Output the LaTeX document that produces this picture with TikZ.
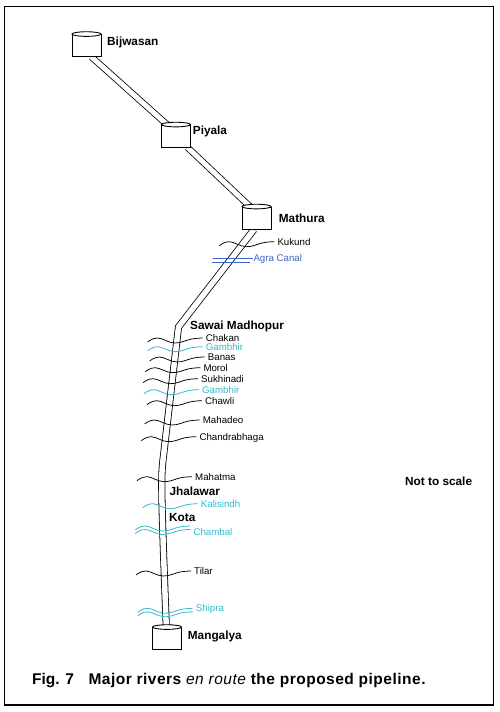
\documentclass[tikz,border=0pt]{standalone}
\usepackage{fontspec}
\setmainfont{Liberation Sans}
\newfontfamily\captionfont[LetterSpace=3.2]{Liberation Sans}
\usetikzlibrary{backgrounds, calc}
\definecolor{rivercyan}{HTML}{35B9C9}
\definecolor{canalblue}{HTML}{3F66C4}
\newcommand{\rivercurve}[3]{\draw[#1, shift={(#2.west)}, yshift=#3] plot[smooth, tension=0.7] coordinates {(-58,4) (-48,0) (-31,5) (-14,1) (-3,0)};}
\begin{document}
\begin{tikzpicture}[
    x=1pt, y=-1pt,
    every node/.style={font=\fontsize{9.7}{10}\selectfont, inner sep=0pt, text height=7pt, text depth=0pt},
    town/.style={font=\fontsize{11.8}{12}\selectfont\bfseries, anchor=west, text height=8.5pt},
    riverlabel/.style={anchor=west},
    cyanlabel/.style={riverlabel, text=rivercyan},
    tank/.style={rectangle, draw=black, line width=0.9pt, fill=white, minimum width=29pt, minimum height=22pt, text height=0pt},
    lid/.style={draw=black, line width=0.9pt, fill=white},
    pipe/.style={draw=black, line width=0.8pt, double=white, double distance=5pt, line join=miter},
    wave/.style={draw=black, line width=0.75pt},
    cyanwave/.style={draw=rivercyan, line width=0.8pt},
    canal/.style={draw=canalblue, line width=0.9pt},
    figtext/.style={font=\fontsize{15.5}{16}\selectfont\bfseries, anchor=west, text height=11pt},
]
\draw[black, line width=1.2pt] (4.5,6.5) rectangle (493.5,705);
\useasboundingbox (0,0) rectangle (500,712);
% tanks
\node[tank] (bijwasan) at (86.5,45.5) {}; \draw[lid] (bijwasan.north) ellipse (14.5pt and 2.3pt);
\node[tank] (piyala) at (176,136) {}; \draw[lid] (piyala.north) ellipse (14.5pt and 2.3pt);
\node[tank] (mathura) at (256.5,218) {}; \draw[lid] (mathura.north) ellipse (14.5pt and 2.3pt);
\node[tank] (mangalya) at (167,638.5) {}; \draw[lid] (mangalya.north) ellipse (14.5pt and 2.3pt);
\coordinate (sawaibend) at (178.5,327);
\coordinate (jhalawarbend) at (163,460);
\begin{scope}[on background layer]
\draw[pipe] ([xshift=5pt]bijwasan.south) -- ([xshift=-9pt]piyala.north);
\draw[pipe] ([xshift=11.5pt]piyala.south) -- ([xshift=-6.5pt]mathura.north);
\draw[pipe, double distance=5.5pt] ([xshift=-2.5pt]mathura.south) -- (sawaibend) -- (jhalawarbend) .. controls (161,477) and (161,490) .. ([xshift=-0.7pt]mangalya.north);
\end{scope}
% towns
\node[town] (lblbijwasan) at (107,41) {Bijwasan};
\node[town] (lblpiyala) at (192.7,130) {Piyala};
\node[town] (lblmathura) at (278.7,218.7) {Mathura};
\node[town] (lblsawai) at (190,325.7) {Sawai Madhopur};
\node[town] (lbljhalawar) at (169.3,491) {Jhalawar};
\node[town] (lblkota) at (169,517.7) {Kota};
\node[town] (lblmangalya) at (187.7,635) {Mangalya};
\node[town] (lblscale) at (405,481) {Not to scale};
% rivers
\node[riverlabel] (kukund) at (277.3,241.7) {Kukund};
\node[riverlabel, text=canalblue] (agra) at (253.3,258.3) {Agra Canal};
\node[riverlabel] (chakan) at (205.7,338) {Chakan};
\node[cyanlabel] (gambhira) at (205.7,346.7) {Gambhir};
\node[riverlabel] (banas) at (207.7,357) {Banas};
\node[riverlabel] (morol) at (203.3,367.7) {Morol};
\node[riverlabel] (sukhinadi) at (201,378.7) {Sukhinadi};
\node[cyanlabel] (gambhirb) at (202,389.7) {Gambhir};
\node[riverlabel] (chawli) at (205,400.7) {Chawli};
\node[riverlabel] (mahadeo) at (202.7,420) {Mahadeo};
\node[riverlabel] (chandrabhaga) at (199.3,436.7) {Chandrabhaga};
\node[riverlabel] (mahatma) at (195,476.7) {Mahatma};
\node[cyanlabel] (kalisindh) at (200.7,503.7) {Kalisindh};
\node[cyanlabel] (chambal) at (193.3,532) {Chambal};
\node[riverlabel] (tilar) at (194,571) {Tilar};
\node[cyanlabel] (shipra) at (195.7,608.3) {Shipra};
\foreach \rv in {kukund,chakan,banas,morol,sukhinadi,chawli,mahadeo,chandrabhaga,mahatma,tilar} {
    \rivercurve{wave}{\rv}{0pt}
}
\foreach \rv in {gambhira,gambhirb,kalisindh} {
    \rivercurve{cyanwave}{\rv}{0pt}
}
\rivercurve{cyanwave}{chambal}{6pt}
\rivercurve{cyanwave}{chambal}{2.5pt}
\rivercurve{cyanwave}{shipra}{0pt}
\rivercurve{cyanwave}{shipra}{-3.5pt}
\draw[canal] ($(agra.west)+(-40,0)$) -- (agra.west);
\draw[canal] ($(agra.west)+(-41,4.4)$) -- ($(agra.west)+(-3,4.4)$);
% caption
\node[figtext] (figno) at (32,679.3) {Fig. 7};
\node[figtext] (figcaption) at (88.3,679.3) {\captionfont\bfseries Major rivers {\mdseries\itshape en route} the proposed pipeline.};
\end{tikzpicture}
\end{document}
